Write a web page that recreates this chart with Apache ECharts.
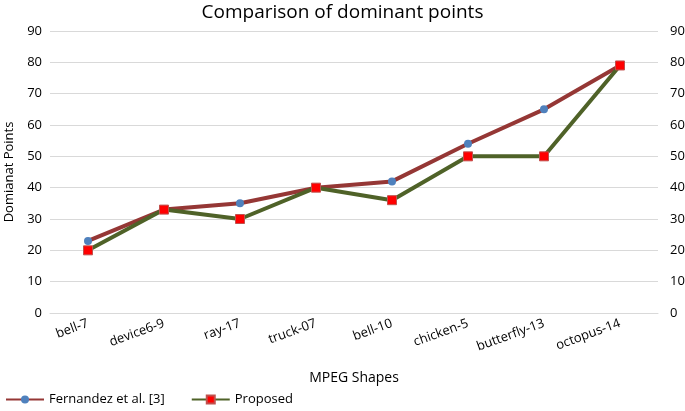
<!DOCTYPE html>
<html>
<head>
<meta charset="utf-8">
<script src="https://cdn.jsdelivr.net/npm/echarts@6/dist/echarts.min.js"></script>
<style>
html, body { margin: 0; padding: 0; background: #fff; }
#main { width: 685px; height: 411px; }
</style>
</head>
<body>
<div id="main"></div>
<script>
// shapes on the x axis
var shapes = ['bell-7', 'device6-9', 'ray-17', 'truck-07', 'bell-10', 'chicken-5', 'butterfly-13', 'octopus-14'];
// dominant points per method
var fernandez = [23, 33, 35, 40, 42, 54, 65, 79];
var proposed = [20, 33, 30, 40, 36, 50, 50, 79];
var seriesNames = ['Fernandez et al. [3]', 'Proposed'];

var font = "'Open Sans', 'Liberation Sans', sans-serif";
var chart = echarts.init(document.getElementById('main'));

var yAxisBase = {
  type: 'value',
  min: 0,
  max: 90,
  interval: 10,
  axisLine: { show: false },
  axisTick: { show: false },
  axisLabel: { color: '#000', fontSize: 13, fontFamily: font },
  splitLine: { lineStyle: { color: '#d9d9d9', width: 1 } }
};

chart.setOption({
  animation: false,
  textStyle: { fontFamily: font },
  title: {
    text: 'Comparison of dominant points',
    left: 'center',
    top: -2,
    textStyle: { fontSize: 19, fontWeight: 'normal', color: '#000', fontFamily: font }
  },
  grid: { left: 50, right: 27, top: 31, bottom: 98, outerBoundsMode: 'none', containLabel: false },
  legend: {
    left: 0,
    bottom: 0,
    itemWidth: 38,
    itemHeight: 10,
    itemGap: 26,
    textStyle: { fontSize: 13, color: '#000', fontFamily: font },
    data: seriesNames
  },
  xAxis: {
    type: 'category',
    data: shapes,
    boundaryGap: true,
    name: 'MPEG Shapes',
    nameLocation: 'middle',
    nameGap: 58,
    nameTextStyle: { fontSize: 14, color: '#000', fontFamily: font },
    axisLine: { lineStyle: { color: '#d9d9d9' } },
    axisTick: { show: false },
    axisLabel: { rotate: 20, color: '#000', fontSize: 13, fontFamily: font, margin: 10 }
  },
  yAxis: [
    Object.assign({}, yAxisBase, {
      position: 'left',
      name: 'Domianat Points',
      nameLocation: 'middle',
      nameGap: 34,
      nameTextStyle: { fontSize: 13, color: '#000', fontFamily: font }
    }),
    Object.assign({}, yAxisBase, {
      position: 'right',
      splitLine: { show: false },
      axisLabel: { color: '#000', fontSize: 13, fontFamily: font, margin: 12, align: 'left' }
    })
  ],
  series: [
    {
      name: seriesNames[0],
      type: 'line',
      data: fernandez,
      symbol: 'circle',
      symbolSize: 8,
      lineStyle: { color: '#953735', width: 4 },
      itemStyle: { color: '#4f81bd', borderWidth: 0 }
    },
    {
      name: seriesNames[1],
      type: 'line',
      data: proposed,
      symbol: 'rect',
      symbolSize: 9,
      lineStyle: { color: '#4f6228', width: 4 },
      itemStyle: { color: '#ff0000', borderColor: '#c0504d', borderWidth: 1 }
    }
  ]
});
</script>
</body>
</html>
